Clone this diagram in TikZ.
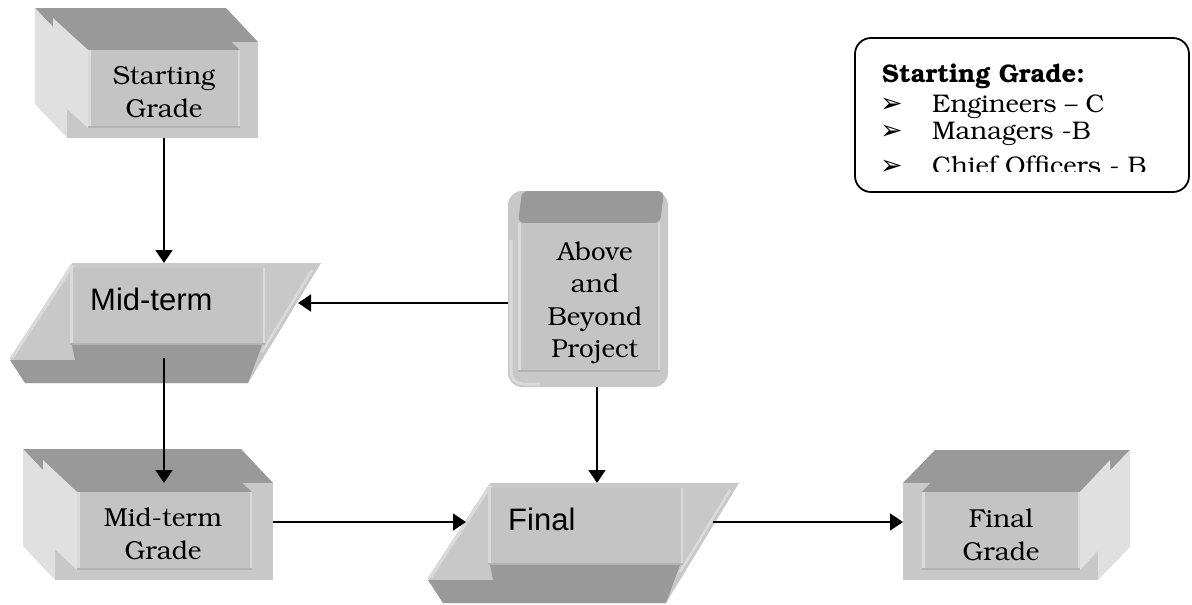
\documentclass[tikz,border=0pt]{standalone}
\usepackage[T1]{fontenc}
\usepackage{fontspec}
\usetikzlibrary{arrows.meta}
\newfontfamily\arialfont{Liberation Sans}
\newfontfamily\dingfont{DejaVu Sans}
\newcommand{\bookfont}{\fontencoding{T1}\fontfamily{pbk}\selectfont}
\definecolor{topgrey}{HTML}{999999}
\definecolor{sidegrey}{HTML}{E0E0E0}
\definecolor{frontgrey}{HTML}{C8C8C8}
\definecolor{panelgrey}{HTML}{C4C4C4}
\definecolor{edgelight}{HTML}{DADADA}
\definecolor{edgedark}{HTML}{B2B2B2}
%% 3d box: front x1,y1,x2,y2 ; depth dx,dy ; x of the side face
\newcommand{\gradecube}[7]{%
  \fill[topgrey] (#1,#2) -- ++(#5,#6) -- ++({#3-#1},0) -- (#3,#2) -- cycle;
  \fill[sidegrey] (#7,#2) -- ++(#5,#6) -- ++(0,{#4-#2}) -- (#7,#4) -- cycle;
  \fill[frontgrey] (#1,#2) rectangle (#3,#4);
}
%% bevel round a front panel
\newcommand{\panelbevel}[4]{%
  \fill[panelgrey] (#1,#2) rectangle (#3,#4);
  \draw[edgelight,line width=2.5pt] (#1+1.25,#4) -- (#1+1.25,#2) (#3-1.25,#2) -- (#3-1.25,#4);
  \draw[edgedark,line width=2pt] (#1,#4-1) -- (#3,#4-1);
}
\tikzset{
  lbl/.style={font=\bookfont\fontsize{26}{33}\selectfont, align=center, inner sep=0pt},
  sanslbl/.style={font=\arialfont\fontsize{31}{36}\selectfont, anchor=base west, inner sep=0pt},
  legtext/.style={font=\bookfont\fontsize{25.5}{28}\selectfont, anchor=base west, inner sep=0pt},
  link/.style={line width=1.5pt, -{Triangle[length=13pt,width=17pt]}}
}
\begin{document}
\begin{tikzpicture}[x=1pt,y=-1pt]
        \useasboundingbox (0,0) rectangle (1192,605);
        %% starting grade
        \gradecube{67}{42}{258}{138}{-32}{-34}{67}
        \gradecube{88}{50}{240}{128}{-35}{-32}{88}
        \panelbevel{88}{50}{240}{128}
        \node[lbl] (startlbl) at (164,92) {Starting\\Grade};
        %% mid-term grade
        \gradecube{55}{483}{273}{580}{-32}{-34}{55}
        \gradecube{77}{492}{252}{570}{-34}{-32}{77}
        \panelbevel{77}{492}{252}{570}
        \node[lbl] (midgradelbl) at (163,534) {Mid-term\\Grade};
        %% final grade
        \gradecube{903}{483}{1098}{580}{32}{-33}{1098}
        \gradecube{922}{492}{1080}{570}{30}{-32}{1080}
        \panelbevel{922}{492}{1080}{570}
        \node[lbl] (finalgradelbl) at (1001,535) {Final\\Grade};
        %% mid-term and final slabs
        \foreach \sx/\sy in {0/0,418/220} {
            \begin{scope}[shift={(\sx,\sy)}]
                \fill[frontgrey] (72,263) -- (321,263) -- (248,383) -- (25,383) -- (10,358) -- cycle;
                \draw[edgelight,line width=3pt] (73,265) -- (12,358);
                \draw[edgelight,line width=2.5pt] (312,270) -- (262,352);
                \fill[topgrey] (72,345) -- (262,345) -- (248,383) -- (25,383) -- (10,360) -- (75,360) -- cycle;
                \panelbevel{70}{268}{265}{345}
            \end{scope}
        }
        \node[sanslbl] (midlbl) at (90,310) {Mid-term};
        \node[sanslbl] (finallbl) at (508,530) {Final};
        %% above and beyond
        \fill[frontgrey,rounded corners=14pt] (508,191) rectangle (668,387);
        \draw[edgelight,line width=3pt,rounded corners=12pt] (511,240) -- (511,384) -- (540,384);
        \fill[topgrey,rounded corners=6pt] (522,191) -- (664,191) -- (660,223) -- (518,223) -- cycle;
        \panelbevel{518}{223}{660}{372}
        \node[lbl, font=\bookfont\fontsize{26}{32.5}\selectfont] (abovelbl) at (595,303) {Above\\and\\Beyond\\Project};
        %% legend
        \draw[line width=1.8pt,rounded corners=16pt] (855,38) rectangle (1189,192);
        \begin{scope}
            \clip (855,38) rectangle (1189,171);
            \node[legtext, font=\bookfont\bfseries\fontsize{25.5}{28}\selectfont] (legtitle) at (882,82) {Starting Grade:};
            \foreach \ln/\item [count=\k] in {112/Engineers -- C, 139/Managers -B, 174/Chief Officers - B} {
                \node[anchor=base west, inner sep=0pt, font=\dingfont\fontsize{27}{30}\selectfont] (legmark\k) at (880,\ln) {➢};
                \node[legtext] (legitem\k) at (932,\ln) {\item};
            }
        \end{scope}
        %% ports
        \coordinate (sg-bot) at (164,138);
        \coordinate (mt-top) at (164,263);
        \coordinate (mt-right) at (298,303);
        \coordinate (ab-left) at (508,303);
        \coordinate (mt-bot) at (164,358);
        \coordinate (mg-top) at (164,483);
        \coordinate (mg-right) at (273,522);
        \coordinate (fn-left) at (466,522);
        \coordinate (ab-bot) at (597,387);
        \coordinate (fn-top) at (597,483);
        \coordinate (fn-right) at (713,522);
        \coordinate (fg-left) at (903,522);
        %% arrows
        \draw[link] (sg-bot) -- (mt-top);
        \draw[link] (ab-left) -- (mt-right);
        \draw[link] (mt-bot) -- (mg-top);
        \draw[link] (mg-right) -- (fn-left);
        \draw[link] (ab-bot) -- (fn-top);
        \draw[link] (fn-right) -- (fg-left);
\end{tikzpicture}
\end{document}
